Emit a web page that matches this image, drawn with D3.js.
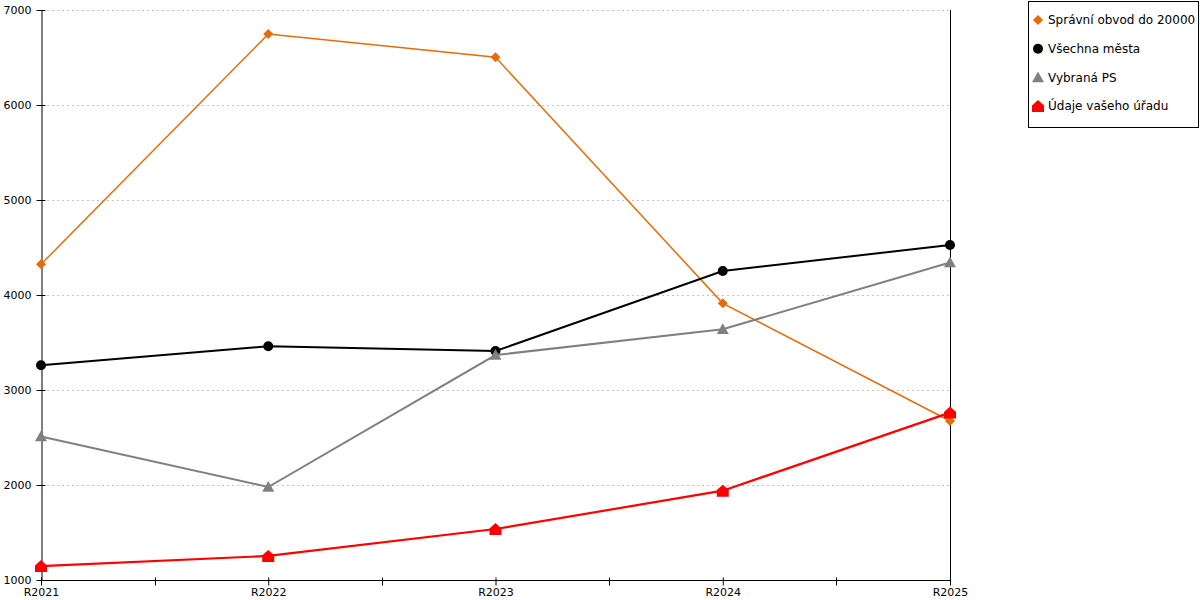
<!DOCTYPE html>
<html lang="cs">
<head>
    <meta charset="utf-8">
    <script src="https://d3js.org/d3.v7.min.js"></script>
    <style>
        body { margin: 0; background: #fff; }
        text { font-family: "DejaVu Sans", Verdana, sans-serif; }
    </style>
</head>
<body>
<script>
    // data
    var categories = ["R2021", "R2022", "R2023", "R2024", "R2025"];
    var seriesNames = ["Správní obvod do 20000", "Všechna města", "Vybraná PS", "Údaje vašeho úřadu"];
    var spravniObvod = [4323, 6747, 6502, 3912, 2674];
    var vsechnaMesta = [3260, 3460, 3410, 4253, 4526];
    var vybranaPS = [2510, 1979, 3368, 3640, 4342];
    var udajeUradu = [1147, 1253, 1537, 1940, 2762];
    var yTicks = [1000, 2000, 3000, 4000, 5000, 6000, 7000];

    const width = 1200, height = 600;
    const plotLeft = 41, plotRight = 950, plotTop = 10, plotBottom = 580;

    const svg = d3.select("body").append("svg")
        .attr("width", width)
        .attr("height", height);

    const x = d3.scalePoint().domain(categories).range([plotLeft, plotRight]);
    const y = d3.scaleLinear().domain([1000, 7000]).range([plotBottom, plotTop]);

    // grid lines (light dotted)
    svg.append("g")
        .selectAll("line")
        .data(yTicks.slice(1))
        .enter()
        .append("line")
        .attr("x1", plotLeft + 6).attr("x2", plotRight)
        .attr("y1", d => y(d) + 0.5).attr("y2", d => y(d) + 0.5)
        .attr("stroke", "#c4c4c4")
        .attr("stroke-dasharray", "2,3");

    // y axis
    const yAxis = svg.append("g")
        .attr("transform", "translate(" + (plotLeft + 0.5) + ",0)")
        .call(d3.axisLeft(y).tickValues(yTicks).tickSize(5).tickSizeOuter(0).tickPadding(5).tickFormat(d3.format("d")));
    yAxis.selectAll(".tick line").attr("x2", 4).attr("x1", -5);
    yAxis.selectAll("text").attr("font-size", 11).attr("fill", "#000");
    yAxis.select(".domain").attr("stroke", "#000");

    // x axis with minor ticks between categories
    const xAxis = svg.append("g")
        .attr("transform", "translate(0," + (plotBottom + 0.5) + ")")
        .call(d3.axisBottom(x).tickSizeOuter(0).tickSize(5).tickPadding(3));
    xAxis.selectAll(".tick line").attr("y1", -3).attr("y2", 5);
    xAxis.selectAll("text").attr("font-size", 11).attr("fill", "#000");
    xAxis.select(".domain").attr("d", "M" + plotLeft + ",0H" + plotRight);

    var mids = d3.pairs(categories).map(p => (x(p[0]) + x(p[1])) / 2);
    xAxis.selectAll(".minor")
        .data(mids)
        .enter()
        .append("line")
        .attr("x1", d => Math.round(d) + 0.5).attr("x2", d => Math.round(d) + 0.5)
        .attr("y1", -3).attr("y2", 5)
        .attr("stroke", "#000");

    // right border line
    svg.append("line")
        .attr("x1", plotRight + 0.5).attr("x2", plotRight + 0.5)
        .attr("y1", plotTop).attr("y2", plotBottom)
        .attr("stroke", "#000");

    // marker shapes
    function diamond(s) { return "M0," + (-s) + "L" + s + ",0L0," + s + "L" + (-s) + ",0Z"; }
    function triangle(s) { return "M0," + (-s) + "L" + s + "," + (s * 0.8) + "L" + (-s) + "," + (s * 0.8) + "Z"; }
    function house(s) { return "M0," + (-s) + "L" + s + "," + (-s * 0.1) + "L" + s + "," + s + "L" + (-s) + "," + s + "L" + (-s) + "," + (-s * 0.1) + "Z"; }
    function circle(s) { return "M" + s + ",0A" + s + "," + s + " 0 1,1 " + (-s) + ",0A" + s + "," + s + " 0 1,1 " + s + ",0Z"; }

    var series = [
        { name: seriesNames[0], values: spravniObvod, color: "#e46c0a", width: 1.5, shape: diamond, size: 5 },
        { name: seriesNames[1], values: vsechnaMesta, color: "#000000", width: 2, shape: circle, size: 5 },
        { name: seriesNames[2], values: vybranaPS, color: "#808080", width: 2, shape: triangle, size: 6 },
        { name: seriesNames[3], values: udajeUradu, color: "#ff0000", width: 2.2, shape: house, size: 6 }
    ];

    var line = d3.line()
        .x((d, i) => x(categories[i]))
        .y(d => y(d));

    var groups = svg.selectAll(".series")
        .data(series)
        .enter()
        .append("g")
        .attr("class", "series");

    groups.append("path")
        .attr("d", d => line(d.values))
        .attr("fill", "none")
        .attr("stroke", d => d.color)
        .attr("stroke-width", d => d.width);

    groups.each(function(s) {
        d3.select(this).selectAll(".pt")
            .data(s.values)
            .enter()
            .append("path")
            .attr("transform", (d, i) => "translate(" + x(categories[i]) + "," + y(d) + ")")
            .attr("d", s.shape(s.size))
            .attr("fill", s.color);
    });

    // legend
    const legend = svg.append("g").attr("transform", "translate(1028,1)");
    legend.append("rect")
        .attr("x", 0.5).attr("y", 0.5)
        .attr("width", 170).attr("height", 126)
        .attr("fill", "#fff")
        .attr("stroke", "#000");

    var items = legend.selectAll(".item")
        .data(series)
        .enter()
        .append("g")
        .attr("transform", (d, i) => "translate(10," + (19 + i * 28.7) + ")");
    items.append("path")
        .attr("d", d => d.shape(d.size))
        .attr("fill", d => d.color);
    items.append("text")
        .attr("x", 10)
        .attr("dy", "0.35em")
        .attr("font-size", 12)
        .text(d => d.name);
</script>
</body>
</html>
